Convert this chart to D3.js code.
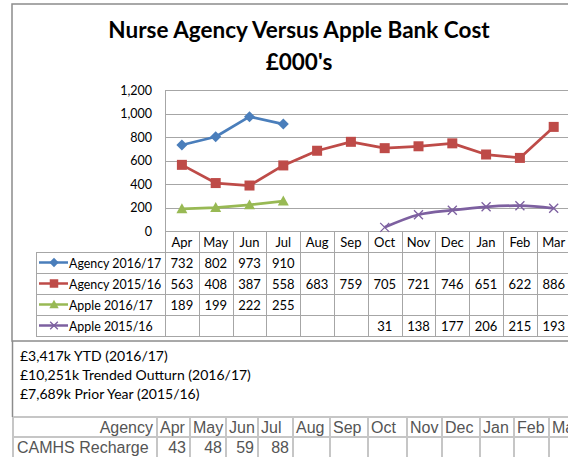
<!DOCTYPE html>
<html>
<head>
<meta charset="utf-8">
<script src="https://cdn.jsdelivr.net/npm/d3@7/dist/d3.min.js"></script>
<style>
  html, body { margin: 0; padding: 0; background: #fff; overflow: hidden; }
  svg { display: block; }
</style>
</head>
<body>
<script>
// ---------------- DATA ----------------
const months = ["Apr","May","Jun","Jul","Aug","Sep","Oct","Nov","Dec","Jan","Feb","Mar"];
const agency1617 = [732, 802, 973, 910, null, null, null, null, null, null, null, null];
const agency1516 = [563, 408, 387, 558, 683, 759, 705, 721, 746, 651, 622, 886];
const apple1617  = [189, 199, 222, 255, null, null, null, null, null, null, null, null];
const apple1516  = [null, null, null, null, null, null, 31, 138, 177, 206, 215, 193];
const seriesNames = ["Agency 2016/17", "Agency 2015/16", "Apple 2016/17", "Apple 2015/16"];
const yTicks = [0, 200, 400, 600, 800, 1000, 1200];
const titleLines = ["Nurse Agency Versus Apple Bank Cost", "£000's"];
const summaryLines = ["£3,417k YTD (2016/17)", "£10,251k Trended Outturn (2016/17)", "£7,689k Prior Year (2015/16)"];
const sheetHeader = ["Agency","Apr","May","Jun","Jul","Aug","Sep","Oct","Nov","Dec","Jan","Feb","Mar"];
const sheetRowLabel = "CAMHS Recharge";
const camhsValues = [43, 48, 59, 88];

// ---------------- LAYOUT ----------------
const W = 568, H = 457;
const font = "Lato, 'Open Sans', sans-serif";
const colors = ["#4a7ebb", "#be4b48", "#98b954", "#7d60a0"];
const markers = ["diamond", "square", "triangle", "x"];
const allSeries = [agency1617, agency1516, apple1617, apple1516];

const svg = d3.select("body").append("svg").attr("width", W).attr("height", H);

// chart frame
svg.append("rect").attr("x", 12).attr("y", 4).attr("width", 620).attr("height", 337)
  .attr("fill", "none").attr("stroke", "#8c8c8c").attr("stroke-width", 1.5);

// title
svg.append("g").selectAll("text").data(titleLines).join("text")
  .attr("x", 299).attr("y", (d, i) => 38 + i * 32)
  .attr("text-anchor", "middle")
  .attr("font-family", font).attr("font-weight", "bold").attr("font-size", 22.5)
  .attr("fill", "#000").text(d => d);

// scales
const plotLeft = 165, bandW = 33.8;
const x = d3.scaleBand().domain(months).range([plotLeft, plotLeft + bandW * months.length]);
const y = d3.scaleLinear().domain([0, 1200]).range([231, 90]);

// gridlines
svg.append("g").selectAll("line").data(yTicks.filter(t => t > 0)).join("line")
  .attr("x1", plotLeft).attr("x2", W + 10)
  .attr("y1", d => Math.round(y(d)) + 0.5).attr("y2", d => Math.round(y(d)) + 0.5)
  .attr("stroke", "#a6a6a6").attr("stroke-width", 1);

// y axis
const yAxis = d3.axisLeft(y).tickValues(yTicks).tickSize(0).tickPadding(13)
  .tickFormat(d3.format(","));
const yg = svg.append("g").attr("transform", `translate(${plotLeft},0)`).call(yAxis);
yg.select(".domain").remove();
yg.selectAll("text").attr("font-family", font).attr("font-size", 12.5).attr("fill", "#000");

// data table
const tableTop = 231, headerH = 21, rowH = 21;
const tableBottom = tableTop + headerH + rowH * 4;
const legendLeft = 36;
const tg = svg.append("g");
const lineColor = "#a6a6a6";
tg.append("line").attr("x1", plotLeft + 0.5).attr("x2", plotLeft + 0.5).attr("y1", 90).attr("y2", tableBottom)
  .attr("stroke", lineColor);
tg.append("line").attr("x1", plotLeft).attr("x2", W + 10).attr("y1", tableTop + 0.5).attr("y2", tableTop + 0.5)
  .attr("stroke", lineColor);
d3.range(5).forEach(i => {
  const yy = tableTop + headerH + i * rowH + 0.5;
  tg.append("line").attr("x1", legendLeft).attr("x2", W + 10).attr("y1", yy).attr("y2", yy).attr("stroke", lineColor);
});
tg.append("line").attr("x1", legendLeft + 0.5).attr("x2", legendLeft + 0.5)
  .attr("y1", tableTop + headerH).attr("y2", tableBottom).attr("stroke", lineColor);
tg.selectAll("line.col").data(months).join("line").attr("class", "col")
  .attr("x1", d => Math.round(x(d) + x.bandwidth()) + 0.5).attr("x2", d => Math.round(x(d) + x.bandwidth()) + 0.5)
  .attr("y1", tableTop).attr("y2", tableBottom).attr("stroke", lineColor);
tg.selectAll("text.hdr").data(months).join("text").attr("class", "hdr")
  .attr("x", d => x(d) + x.bandwidth() / 2).attr("y", tableTop + headerH / 2 + 1)
  .attr("dy", "0.35em").attr("text-anchor", "middle")
  .attr("font-family", font).attr("font-size", 13).attr("fill", "#000").text(d => d);
allSeries.forEach((vals, si) => {
  const cy = tableTop + headerH + si * rowH + rowH / 2 + 1;
  tg.append("g").selectAll("text").data(months).join("text")
    .attr("x", d => x(d) + x.bandwidth() / 2).attr("y", cy).attr("dy", "0.35em")
    .attr("text-anchor", "middle").attr("font-family", font).attr("font-size", 13).attr("fill", "#000")
    .text((d, i) => vals[i] == null ? "" : vals[i]);
  tg.append("line").attr("x1", 39).attr("x2", 68).attr("y1", cy - 1).attr("y2", cy - 1)
    .attr("stroke", colors[si]).attr("stroke-width", 2.5);
  drawMarker(tg, markers[si], 54, cy - 1, colors[si], 0.85);
  tg.append("text").attr("x", 69).attr("y", cy).attr("dy", "0.35em")
    .attr("font-family", font).attr("font-size", 12.4).attr("fill", "#000").text(seriesNames[si]);
});

function drawMarker(g, type, cx, cy, color, s) {
  s = s || 1;
  if (type === "diamond") {
    const r = 5.5 * s;
    g.append("path").attr("d", `M${cx},${cy - r}L${cx + r},${cy}L${cx},${cy + r}L${cx - r},${cy}Z`).attr("fill", color);
  } else if (type === "square") {
    const r = 5 * s;
    g.append("rect").attr("x", cx - r).attr("y", cy - r).attr("width", 2 * r).attr("height", 2 * r).attr("fill", color);
  } else if (type === "triangle") {
    const r = 5.5 * s;
    g.append("path").attr("d", `M${cx},${cy - r}L${cx + r},${cy + r * 0.8}L${cx - r},${cy + r * 0.8}Z`).attr("fill", color);
  } else if (type === "x") {
    const r = 4.5 * s;
    g.append("path").attr("d", `M${cx - r},${cy - r}L${cx + r},${cy + r}M${cx - r},${cy + r}L${cx + r},${cy - r}`)
      .attr("stroke", color).attr("stroke-width", 1.3).attr("fill", "none");
  }
}

// series lines
const lg = svg.append("g");
allSeries.forEach((vals, si) => {
  const pts = vals.map((v, i) => ({ m: months[i], v })).filter(p => p.v != null);
  const line = d3.line().x(p => x(p.m) + x.bandwidth() / 2).y(p => y(p.v))
    .curve(si === 3 ? d3.curveCatmullRom.alpha(0.5) : d3.curveLinear);
  lg.append("path").datum(pts).attr("d", line).attr("fill", "none")
    .attr("stroke", colors[si]).attr("stroke-width", 2.75).attr("stroke-linejoin", "round");
  pts.forEach(p => drawMarker(lg, markers[si], x(p.m) + x.bandwidth() / 2, y(p.v), colors[si], 1));
});

// summary text
svg.append("g").selectAll("text").data(summaryLines).join("text")
  .attr("x", 20).attr("y", (d, i) => 356 + i * 19).attr("dy", "0.35em")
  .attr("font-family", font).attr("font-size", 14).attr("fill", "#000").text(d => d);

svg.append("line").attr("x1", 12.5).attr("x2", 12.5).attr("y1", 341).attr("y2", 417)
  .attr("stroke", "#8c8c8c").attr("stroke-width", 1.5);

// spreadsheet rows
const sheetEdges = [13, 157, 190, 226, 258, 293, 330, 368, 407, 442, 480, 514, 549, 620];
const sg = svg.append("g");
const sheetLine = "#c6c6c6";
[417, 437].forEach(yy => sg.append("line").attr("x1", 13).attr("x2", W + 10).attr("y1", yy).attr("y2", yy)
  .attr("stroke", sheetLine).attr("stroke-width", 2));
sg.selectAll("line.v").data(sheetEdges.slice(0, -1)).join("line").attr("class", "v")
  .attr("x1", d => d).attr("x2", d => d).attr("y1", 417).attr("y2", H + 5)
  .attr("stroke", sheetLine).attr("stroke-width", 2);
const sheetFont = "'Liberation Sans', Arial, sans-serif";
sg.selectAll("text.h").data(sheetHeader).join("text").attr("class", "h")
  .attr("x", (d, i) => i === 0 ? sheetEdges[1] - 4 : sheetEdges[i] + 3)
  .attr("text-anchor", (d, i) => i === 0 ? "end" : "start")
  .attr("y", 427).attr("dy", "0.35em")
  .attr("font-family", sheetFont).attr("font-size", 16).attr("fill", "#555").text(d => d);
sg.append("text").attr("x", 17).attr("y", 447).attr("dy", "0.35em")
  .attr("font-family", sheetFont).attr("font-size", 16).attr("fill", "#555").text(sheetRowLabel);
sg.selectAll("text.v").data(camhsValues).join("text").attr("class", "v")
  .attr("x", (d, i) => sheetEdges[i + 2] - 4).attr("text-anchor", "end")
  .attr("y", 447).attr("dy", "0.35em")
  .attr("font-family", sheetFont).attr("font-size", 16).attr("fill", "#555").text(d => d);
</script>
</body>
</html>
